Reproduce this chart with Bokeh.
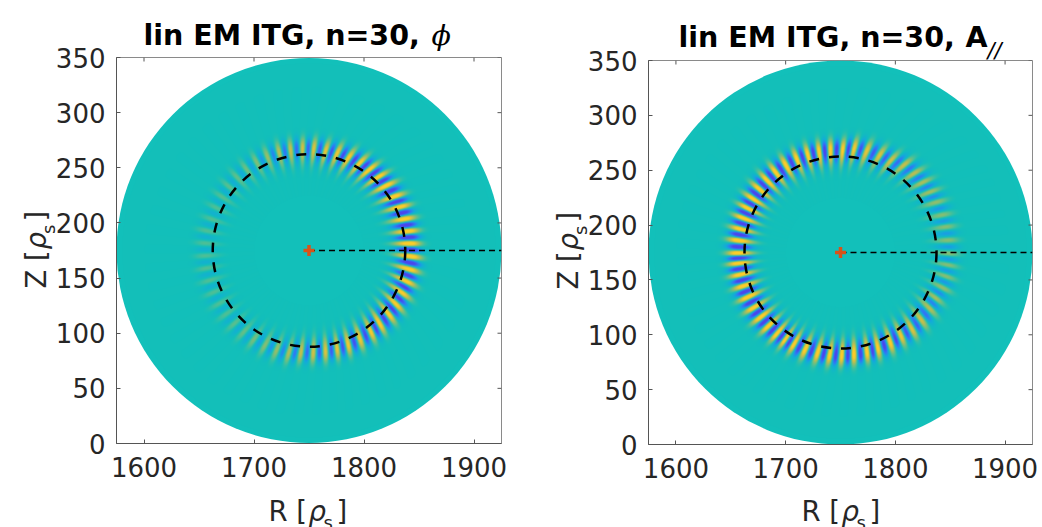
import numpy as np
from bokeh.plotting import figure
from bokeh.models import LinearColorMapper, FixedTicker, Range1d
from bokeh.core.properties import value
from bokeh.embed import file_html
from bokeh.resources import INLINE

R_RANGE = (1575, 1925)
Z_RANGE = (0, 350)
R_TICKS = [1600, 1700, 1800, 1900]
Z_TICKS = [0, 50, 100, 150, 200, 250, 300, 350]
AXIS_CENTRE = (1750, 175)
DISC_RADIUS = 175
SURFACE_RADIUS = 87.5

# Poloidal angle (deg) of each yellow stripe and its strength
phi_angles = [-94.6,-87.6,-80.7,-74,-67.4,-60,-52.6,-46,-38.5,-31.6,-24.3,-17.5,-10.6,-3.3,4,11,18.2,25.6,
              32.2,40,46.6,53.2,59.8,66.8,73.8,80.5,87.3,93.6,100.4,107,114,120.8,127.7,134.6,141.5,148.4,
              155.3,162.2,169.1,176,182.9,189.8,196.7,203.6,210.5,217.4,224.3,231.2,238.1,245,251.9,258.8]
phi_amps = [.55,.6,.65,.7,.75,.75,.8,.85,.85,.85,.85,.9,.95,1,1,1,.95,.95,
            .95,.95,.95,.9,.85,.8,.75,.7,.65,.6,.55,.5,.38,.3,.25,.21,.19,.17,
            .16,.16,.16,.16,.16,.16,.16,.16,.16,.16,.19,.22,.27,.32,.38,.46]
phi_radius = [93]*14 + [92]*12 + [93]*12 + [95]*14

apar_angles = [-117,-110,-102.8,-96,-89.3,-82.5,-75,-68.7,-61,-54,-47,-39.8,-32,-25.5,-19,-12.7,-6.6,-0.5,
               6.5,13.7,20.2,27.7,34,40.4,47,54,61.3,68,75.5,82.5,88.7,95.6,102,108.5,115,122,129,
               135.5,142,148.5,154.5,160.5,166.8,173.2,180.4,186,192.4,199,205.7,212.4,219,225.6,232,237.6]
apar_amps = [.9,.9,.9,.9,.9,.9,.9,.85,.85,.75,.66,.58,.48,.42,.36,.32,.32,.32,
             .32,.32,.32,.36,.42,.45,.5,.55,.6,.65,.7,.78,.85,.9,.9,.9,.9,.9,.95,
             .95,.95,.95,1,1,1,1,1,1,1,1,1,.95,.95,.95,.95,.9]
apar_radius = [94]*10 + [96]*4 + [99]*12 + [96]*4 + [94]*24

# Lean of the stripes away from the radial direction, by poloidal angle (deg)
lean_angles = [-180, -135, -90, -60, -45, -30, -10, 0, 10, 30, 45, 60, 90, 135, 180]
lean_values = [0, 2, 5, 12, 15, 13, 5, 3, 5, 13, 15, 12, 5, 2, 0]

PARULA = [(-1, 75, 70, 235), (-.8, 75, 70, 235), (-.5, 50, 120, 245), (-.25, 20, 170, 220), (0, 18, 192, 186),
          (.25, 113, 191, 128), (.5, 190, 190, 80), (.8, 252, 205, 40), (1, 252, 205, 40)]

TEAL = "#12c0ba"
TXT = "#262626"
TICK_SZ = "26px"
LABEL_SZ = "27.5px"
SUB_SZ = "18px"
TITLE_SZ = "28.5px"


def field(angles, amps, radii, nx, ny):
    x = np.linspace(*R_RANGE, nx)
    y = np.linspace(*Z_RANGE, ny)
    X, Y = np.meshgrid(x, y)
    dx, dy = X - AXIS_CENTRE[0], Y - AXIS_CENTRE[1]
    r = np.hypot(dx, dy)
    th = np.degrees(np.arctan2(dy, dx))
    a = np.array(angles, float)
    base = a[0]
    N = len(a)
    r0 = np.interp(th, a, radii, period=360)
    lean = np.interp(th, lean_angles, lean_values)
    th_l = th + lean * (r - r0) / np.maximum(r0, 1)
    th_w = (th_l - base) % 360 + base
    k = np.interp(th_w, np.r_[a, base + 360], np.arange(N + 1))
    amp = np.interp(th_l, a, amps, period=360)
    s = np.where(r < r0, 9.0, 6.5)
    f = amp * np.cos(2 * np.pi * k) * np.exp(-0.5 * ((r - r0) / s) ** 2)
    f[(r < 50) | (r > 170)] = np.nan
    return f


def palette():
    pts = np.array(PARULA, float)
    t = np.linspace(-1, 1, 256)
    cols = [np.interp(t, pts[:, 0], pts[:, c]) for c in (1, 2, 3)]
    return ["#%02x%02x%02x" % (int(a), int(b), int(c)) for a, b, c in zip(*cols)]


MAPPER = LinearColorMapper(palette=palette(), low=-1, high=1, nan_color="rgba(0,0,0,0)")


def panel(angles, amps, radii, sx, sy, w, h, fw, fh, left, top):
    p = figure(width=w, height=h, min_border_left=left, min_border_top=top,
               min_border_right=w - left - fw, min_border_bottom=h - top - fh,
               frame_width=fw, frame_height=fh,
               x_range=Range1d(*R_RANGE), y_range=Range1d(*Z_RANGE),
               output_backend="svg", toolbar_location=None,
               styles={"position": "absolute", "left": f"{sx}px", "top": f"{sy}px"})
    p.grid.visible = False
    p.outline_line_color = "#8a8a8a"
    p.background_fill_color = "white"
    p.xaxis.ticker = FixedTicker(ticks=R_TICKS)
    p.yaxis.ticker = FixedTicker(ticks=Z_TICKS)
    for ax in (p.xaxis[0], p.yaxis[0]):
        ax.major_tick_in = 4
        ax.major_tick_out = 0
        ax.minor_tick_line_color = None
        ax.major_tick_line_color = "#555555"
        ax.axis_line_color = "#555555"
        ax.major_label_text_font = "DejaVu Sans"
        ax.major_label_text_font_size = TICK_SZ
        ax.major_label_text_color = TXT
    p.xaxis[0].major_label_standoff = 13
    p.yaxis[0].major_label_standoff = 11

    p.circle(x=[AXIS_CENTRE[0]], y=[AXIS_CENTRE[1]], radius=DISC_RADIUS, fill_color=TEAL, line_color=None)
    img = field(angles, amps, radii, fw, fh)
    p.image(image=[img], x=R_RANGE[0], y=Z_RANGE[0], dw=R_RANGE[1] - R_RANGE[0], dh=Z_RANGE[1] - Z_RANGE[0],
            color_mapper=MAPPER)
    p.arc(x=[AXIS_CENTRE[0]], y=[AXIS_CENTRE[1]], radius=SURFACE_RADIUS, start_angle=0, end_angle=2 * np.pi,
          direction="clock", line_color="black", line_width=2.5, line_dash="10 10")
    p.line(x=[AXIS_CENTRE[0], R_RANGE[1]], y=[AXIS_CENTRE[1]] * 2, line_color="black", line_width=1.3, line_dash="6 4")
    p.scatter(x=[AXIS_CENTRE[0]], y=[AXIS_CENTRE[1]], marker="cross", size=11, line_width=3.5, line_color="#d95319")
    tlen_y = 4 * (Z_RANGE[1] - Z_RANGE[0]) / fh
    tlen_x = 4 * (R_RANGE[1] - R_RANGE[0]) / fw
    p.segment(x0=R_TICKS, x1=R_TICKS, y0=[Z_RANGE[1]] * 4, y1=[Z_RANGE[1] - tlen_y] * 4, line_color="#555555", line_width=1)
    p.segment(x0=[R_RANGE[1]] * 8, x1=[R_RANGE[1] - tlen_x] * 8, y0=Z_TICKS, y1=Z_TICKS, line_color="#555555", line_width=1)
    return p


# left panel: frame x 116..501, y 57..443 in the window
p1 = panel(phi_angles, phi_amps, phi_radius, 0, 0, 540, 527, 385, 386, 116, 57)
# right panel: frame x 648..1032, y 60..444
p2 = panel(apar_angles, apar_amps, apar_radius, 540, 0, 502, 527, 384, 384, 108, 60)

# transparent sheet over the whole window that carries the composed titles and axis titles
sheet = figure(width=1042, height=527, x_range=Range1d(0, 1042), y_range=Range1d(527, 0),
               x_axis_location=None, y_axis_location=None, min_border=0, toolbar_location=None,
               output_backend="svg", background_fill_color=None, border_fill_color=None, outline_line_color=None,
               styles={"position": "absolute", "left": "0px", "top": "0px"})
sheet.grid.visible = False


def txt(x, y, text, style="normal", font="DejaVu Sans", color=TXT, angle=0, size=LABEL_SZ):
    sheet.text(x=[x], y=[y], text=[text], text_font=value(font), text_font_size=value(size), text_font_style=style,
               text_color=color, text_baseline="alphabetic", text_align="left", angle=angle)


TITLE_MAIN = "lin EM ITG, n=30,"
for x, b in ((143, 35), (678, 37)):
    txt(x, b, TITLE_MAIN, style="bold", color="black", size=TITLE_SZ)
txt(431, 35, "ϕ", style="italic", font="DejaVu Serif", color="black", size=TITLE_SZ)
txt(965, 37, "A", style="bold", color="black", size=TITLE_SZ)
txt(987, 50, "//", style="italic", color="black", size="21px")

for x in (268, 801):
    txt(x, 510, "R [")
    txt(x + 40, 510, "ρ", style="italic")
    txt(x + 55, 522, "s", size=SUB_SZ)
    txt(x + 68, 510, "]")

for x, d in ((35, 0), (567, 1)):
    txt(x, 288 + d, "Z [", angle=np.pi / 2)
    txt(x, 249 + d, "ρ", style="italic", angle=np.pi / 2)
    txt(x + 13, 233.5 + d, "s", angle=np.pi / 2, size=SUB_SZ)
    txt(x, 221 + d, "]", angle=np.pi / 2)

open("out.html", "w").write(file_html([p1, p2, sheet], INLINE))
